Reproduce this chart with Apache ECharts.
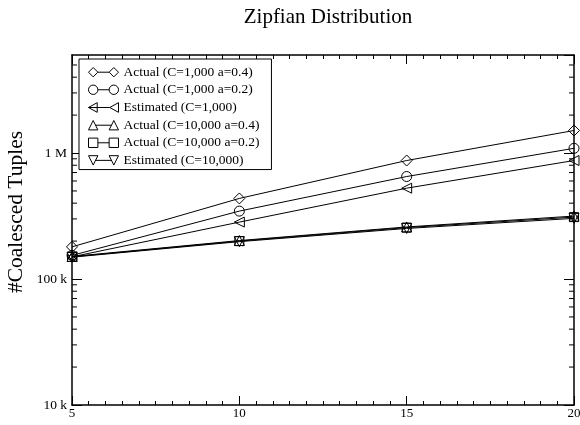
<!DOCTYPE html>
<html>
<head>
<meta charset="utf-8">
<script src="https://cdn.jsdelivr.net/npm/echarts@6/dist/echarts.min.js"></script>
<style>
  html, body { margin: 0; padding: 0; background: #fff; }
  #chart { width: 580px; height: 425px; }
</style>
</head>
<body>
<div id="chart"></div>
<script>
var xValues = [5, 10, 15, 20];
var names = [
  'Actual (C=1,000 a=0.4)',
  'Actual (C=1,000 a=0.2)',
  'Estimated (C=1,000)',
  'Actual (C=10,000 a=0.4)',
  'Actual (C=10,000 a=0.2)',
  'Estimated (C=10,000)'
];
var actual1000a04 = [180000, 436000, 872000, 1510000];
var actual1000a02 = [154000, 346000, 651000, 1090000];
var estimated1000 = [150000, 283000, 526000, 872000];
var actual10000a04 = [151000, 202000, 259000, 316000];
var actual10000a02 = [150000, 200000, 256000, 310000];
var estimated10000 = [149000, 198000, 252000, 303000];
var yMajorLabels = { 10000: '10 k', 100000: '100 k', 1000000: '1 M' };
var yMinorTicks = [20000, 30000, 40000, 50000, 60000, 70000, 80000, 90000,
  200000, 300000, 400000, 500000, 600000, 700000, 800000, 900000,
  2000000, 3000000, 4000000, 5000000];

var font = 'Liberation Serif';
var symbols = ['diamond', 'circle', 'triangle', 'triangle', 'rect', 'triangle'];
var rotations = [0, 0, 90, 0, 0, 180];
var sizes = [11, 10, 10, 10, 9, 10];
var icons = [
  'path://M0,5 L5,0 L10,5 L5,10 Z M22,5 L27,0 L32,5 L27,10 Z M10,5 L22,5',
  'path://M0,5 A5,5 0 1,1 10,5 A5,5 0 1,1 0,5 Z M22,5 A5,5 0 1,1 32,5 A5,5 0 1,1 22,5 Z M10,5 L22,5',
  'path://M0,5 L9,0 L9,10 Z M22,5 L31,0 L31,10 Z M0,5 L22,5',
  'path://M0,10 L5,0 L10,10 Z M22,10 L27,0 L32,10 Z M7.5,5 L24.5,5',
  'path://M0,0 L10,0 L10,10 L0,10 Z M22,0 L32,0 L32,10 L22,10 Z M10,5 L22,5',
  'path://M0,0 L10,0 L5,10 Z M22,0 L32,0 L27,10 Z M7.5,5 L24.5,5'
];
var seriesValues = [actual1000a04, actual1000a02, estimated1000, actual10000a04, actual10000a02, estimated10000];

var chart = echarts.init(document.getElementById('chart'), null, { renderer: 'canvas' });

var series = seriesValues.map(function (vals, i) {
  return {
    name: names[i],
    type: 'line',
    data: xValues.map(function (x, j) { return [x, vals[j]]; }),
    symbol: symbols[i],
    symbolRotate: rotations[i],
    symbolSize: sizes[i],
    showAllSymbol: true,
    lineStyle: { color: '#000', width: 1 },
    itemStyle: { color: 'rgba(0,0,0,0)', borderColor: '#000', borderWidth: 1 },
    emphasis: { disabled: true },
    animation: false,
    z: 3
  };
});

// minor ticks of the log axes, placed through the chart's own scale
series.push({
  type: 'custom',
  silent: true,
  animation: false,
  clip: false,
  z: 5,
  data: yMinorTicks.map(function (v) { return [5, v]; }),
  renderItem: function (params, api) {
    var v = api.value(1);
    var p = api.coord([5, v]);
    var q = api.coord([20, v]);
    return {
      type: 'group',
      children: [
        { type: 'line', shape: { x1: p[0], y1: p[1], x2: p[0] + 5, y2: p[1] }, style: { stroke: '#000', lineWidth: 1 } },
        { type: 'line', shape: { x1: q[0] - 5, y1: q[1], x2: q[0], y2: q[1] }, style: { stroke: '#000', lineWidth: 1 } }
      ]
    };
  }
});

var xAxisBase = {
  type: 'value', min: 5, max: 20, interval: 5,
  axisLine: { show: true, onZero: false, lineStyle: { color: '#000', width: 1.5 } },
  axisTick: { show: true, inside: true, length: 9, lineStyle: { color: '#000' } },
  minorTick: { show: true, splitNumber: 10, length: 4, lineStyle: { color: '#000' } },
  splitLine: { show: false }
};
var yAxisBase = {
  type: 'log', logBase: 10, min: 10000, max: 6000000,
  axisLine: { show: true, onZero: false, lineStyle: { color: '#000', width: 1.5 } },
  axisTick: { show: true, inside: true, length: 10, lineStyle: { color: '#000' } },
  splitLine: { show: false }
};

chart.setOption({
  animation: false,
  backgroundColor: '#fff',
  title: {
    text: 'Zipfian Distribution',
    left: 323, top: 2, textAlign: 'center',
    textStyle: { fontFamily: font, fontSize: 21, fontWeight: 'normal', color: '#000' }
  },
  grid: { left: 72, right: 6, top: 55, bottom: 20, containLabel: false, outerBoundsMode: 'none' },
  legend: {
    orient: 'vertical',
    left: 79, top: 59,
    padding: [6, 12, 2, 7],
    itemGap: 3.2,
    itemWidth: 30, itemHeight: 10,
    borderColor: '#000', borderWidth: 1,
    backgroundColor: '#fff',
    selectedMode: false,
    itemStyle: { color: 'none', borderColor: '#000', borderWidth: 1 },
    textStyle: { fontFamily: font, fontSize: 13.5, color: '#000', padding: [0, 0, 0, 0] },
    data: names.map(function (n, i) { return { name: n, icon: icons[i] }; })
  },
  xAxis: [
    Object.assign({}, xAxisBase, {
      position: 'bottom',
      axisLabel: { show: true, margin: 2, color: '#000', fontFamily: font, fontSize: 13 }
    }),
    Object.assign({}, xAxisBase, { position: 'top', axisLabel: { show: false } })
  ],
  yAxis: [
    Object.assign({}, yAxisBase, {
      position: 'left',
      name: '#Coalesced Tuples',
      nameLocation: 'middle',
      nameGap: 45,
      nameMoveOverlap: false,
      nameTextStyle: { fontFamily: font, fontSize: 21.5, color: '#000', padding: [0, 0, 0, 36] },
      axisLabel: {
        show: true, margin: 5, color: '#000', fontFamily: font, fontSize: 13.5,
        showMaxLabel: false,
        formatter: function (v) { return yMajorLabels[Math.round(v)] || ''; }
      }
    }),
    Object.assign({}, yAxisBase, { position: 'right', axisLabel: { show: false } })
  ],
  series: series
});
</script>
</body>
</html>
